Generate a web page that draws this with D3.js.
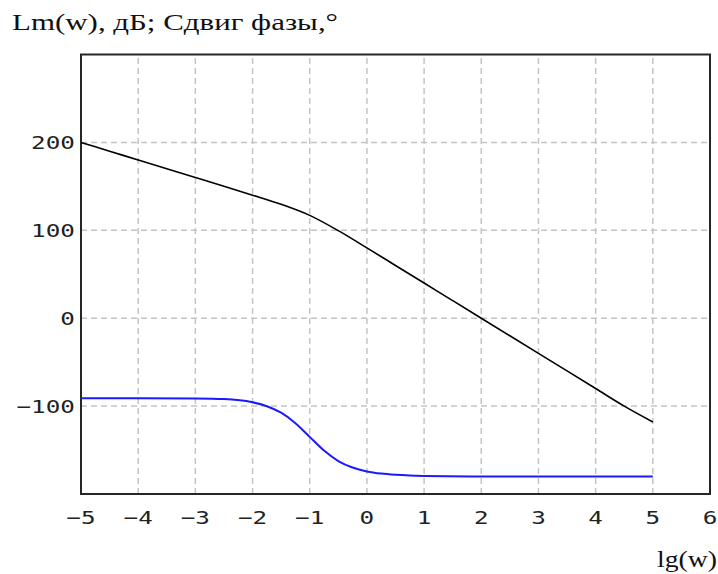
<!DOCTYPE html>
<html>
<head>
<meta charset="utf-8">
<script src="https://cdn.jsdelivr.net/npm/d3@7"></script>
<style>
  body { margin: 0; background: #fff; }
  svg { display: block; }
</style>
</head>
<body>
<svg id="chart" width="718" height="574"></svg>
<script>
// lg(w) points and the magnitude curve Lm(w), dB
const lgwLm = [-5, -4.5, -4, -3.5, -3, -2.5, -2, -1.5, -1, -0.5, 0, 0.5, 1, 1.5, 2, 2.5, 3, 3.5, 4, 4.5, 5];
const lmValues = [200, 190, 180, 170, 160, 150, 140, 129.6, 117, 99.6, 80, 60, 40, 20, 0, -20, -40, -60, -80, -100, -118];

// lg(w) points and the phase shift, degrees
const lgwPhase = [-5, -4, -3, -2.5, -2, -1.75, -1.5, -1.25, -1, -0.75, -0.5, -0.25, 0, 0.25, 0.5, 0.75, 1, 2, 3, 4, 5];
const phaseValues = [-91, -91, -91.3, -92, -95.7, -100.1, -107.5, -119.4, -135, -150.6, -162.5, -169.9, -174.3, -176.8, -178.2, -179, -179.4, -180, -180, -180, -180];

const xTicks = [-5, -4, -3, -2, -1, 0, 1, 2, 3, 4, 5, 6];
const yTicks = [-100, 0, 100, 200];

const svg = d3.select("#chart");

const x = d3.scaleLinear()
    .domain([-5, 6])
    .range([81, 710]);

const y = d3.scaleLinear()
    .domain([-200, 300])
    .range([494, 54.5]);

// grid
const grid = svg.append("g")
    .attr("stroke", "#c4c4c4")
    .attr("stroke-width", 1.5)
    .attr("stroke-dasharray", "6,4");

grid.selectAll(".vgrid")
    .data(xTicks.slice(1, -1))
    .enter()
    .append("line")
    .attr("x1", d => x(d))
    .attr("x2", d => x(d))
    .attr("y1", y.range()[0])
    .attr("y2", y.range()[1]);

grid.selectAll(".hgrid")
    .data(yTicks)
    .enter()
    .append("line")
    .attr("x1", x.range()[0])
    .attr("x2", x.range()[1])
    .attr("y1", d => y(d))
    .attr("y2", d => y(d));

// frame
svg.append("rect")
    .attr("x", x.range()[0])
    .attr("y", y.range()[1])
    .attr("width", x.range()[1] - x.range()[0])
    .attr("height", y.range()[0] - y.range()[1])
    .attr("fill", "none")
    .attr("stroke", "#262626")
    .attr("stroke-width", 2);

// tick labels, wide fixed-width digits
const tickFont = "'DejaVu Sans Mono', monospace";
const sx = 1.35;

svg.append("g")
    .selectAll("text")
    .data(xTicks)
    .enter()
    .append("text")
    .attr("transform", d => `translate(${x(d)},524) scale(${sx},1)`)
    .attr("text-anchor", "middle")
    .style("font-family", tickFont)
    .style("font-size", "18px")
    .style("fill", "#222")
    .text(d => d < 0 ? "\u2212" + Math.abs(d) : d);

svg.append("g")
    .selectAll("text")
    .data(yTicks)
    .enter()
    .append("text")
    .attr("transform", d => `translate(75,${y(d) + 6.5}) scale(${sx},1)`)
    .attr("text-anchor", "end")
    .style("font-family", tickFont)
    .style("font-size", "18px")
    .style("fill", "#222")
    .text(d => d < 0 ? "\u2212" + Math.abs(d) : d);

// curves
const lineLm = d3.line()
    .x((d, i) => x(lgwLm[i]))
    .y(d => y(d))
    .curve(d3.curveMonotoneX);

const linePhase = d3.line()
    .x((d, i) => x(lgwPhase[i]))
    .y(d => y(d))
    .curve(d3.curveMonotoneX);

svg.append("path")
    .attr("fill", "none")
    .attr("stroke", "#000")
    .attr("stroke-width", 1.6)
    .attr("d", lineLm(lmValues));

svg.append("path")
    .attr("fill", "none")
    .attr("stroke", "#1a1aff")
    .attr("stroke-width", 2)
    .attr("d", linePhase(phaseValues));

// titles
svg.append("text")
    .attr("x", 12)
    .attr("y", 29.5)
    .attr("textLength", 326)
    .attr("lengthAdjust", "spacingAndGlyphs")
    .style("font-family", "'Liberation Serif', serif")
    .style("font-size", "23px")
    .style("fill", "#111")
    .text("Lm(w), дБ; Сдвиг фазы,°");

svg.append("text")
    .attr("x", 657)
    .attr("y", 567)
    .attr("textLength", 60)
    .attr("lengthAdjust", "spacingAndGlyphs")
    .style("font-family", "'Liberation Serif', serif")
    .style("font-size", "23px")
    .style("fill", "#111")
    .text("lg(w)");
</script>
</body>
</html>
